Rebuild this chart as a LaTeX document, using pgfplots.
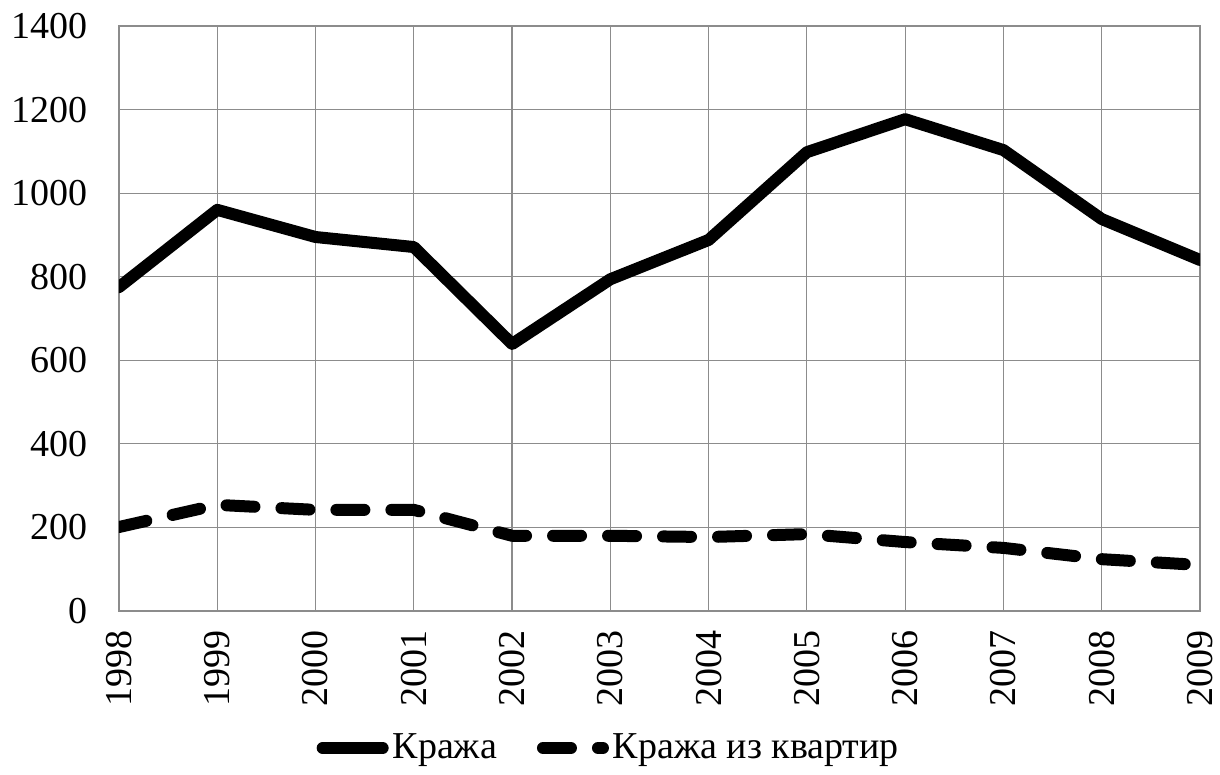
\documentclass[border=0pt]{standalone}
\usepackage{pgfplots}
\pgfplotsset{compat=1.18}
\usepackage{fontspec}
\setmainfont{Liberation Serif}
\usetikzlibrary{calc}
\definecolor{gridgray}{RGB}{140,140,140}
\begin{document}
\begin{tikzpicture}
\begin{axis}[
  name=ax,
  scale only axis,
  width=540.5pt, height=292.5pt,
  xmin=1998, xmax=2009,
  ymin=0, ymax=1400,
  xtick={1998,1999,...,2009},
  ytick={0,200,...,1400},
  grid=major,
  major grid style={gridgray, line width=0.6pt},
  axis line style={gridgray, line width=0.6pt},
  tick style={draw=none},
  /pgf/number format/assume math mode=true,
  /pgf/number format/1000 sep={},
  every tick label/.append style={font=\fontsize{19}{23}\selectfont, text=black},
  xticklabel style={rotate=90, anchor=east, xshift=-6pt},
  yticklabel style={xshift=-12pt},
  legend columns=2,
  legend style={draw=none, fill=none, at={(rel axis cs:0.454,0)}, anchor=center, yshift=-68.5pt,
    font=\fontsize{19}{23}\selectfont, /tikz/every even column/.append style={column sep=18pt},
    inner sep=0pt},
  legend cell align=left,
  legend image code/.code={\draw[#1] (0pt,0pt) -- (30pt,0pt);},
]
\addplot[black, line width=6pt, line join=round, line cap=round] coordinates {
(1998,775) (1999,960) (2000,895) (2001,871) (2002,639) (2003,794) (2004,888) (2005,1098) (2006,1177) (2007,1103) (2008,938) (2009,840)};
\addlegendentry{Кража}
\addplot[black, line width=6pt, line join=round, line cap=round, dash pattern=on 14pt off 13.5pt] coordinates {
(1998,201) (1999,254) (2000,242) (2001,242) (2002,180) (2003,180) (2004,177) (2005,184) (2006,165) (2007,151) (2008,124) (2009,110)};
\addlegendentry{Кража из квартир}
\end{axis}
\pgfresetboundingbox
\path ($(ax.south west)+(-59.5pt,-82pt)$) rectangle ($(ax.north east)+(10pt,13pt)$);
\end{tikzpicture}
\end{document}
